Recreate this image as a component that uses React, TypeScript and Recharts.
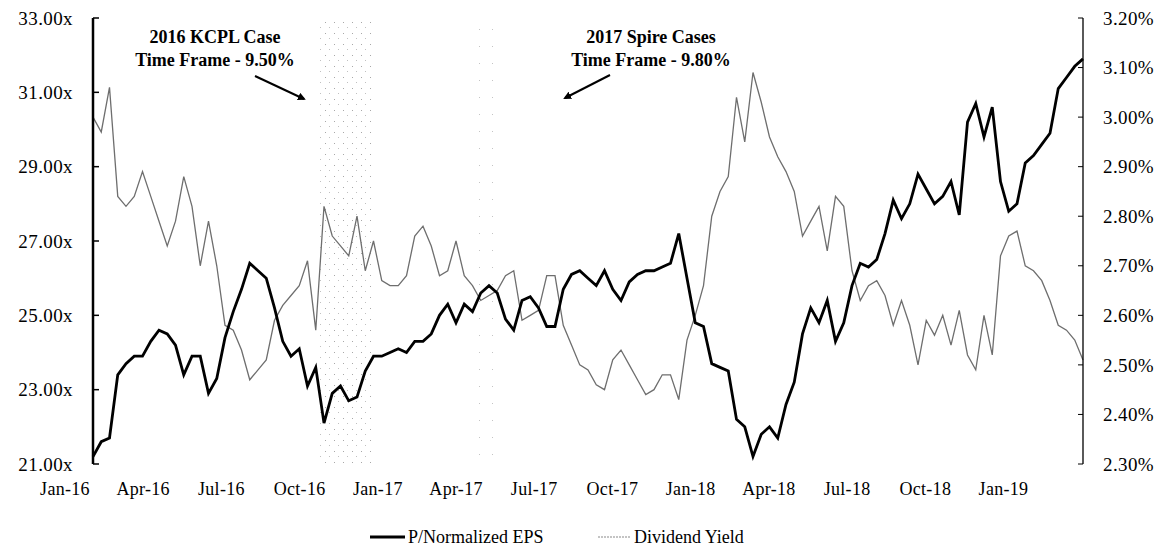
import React from 'react';
import { LineChart, Line, XAxis, YAxis, ReferenceArea } from 'recharts';

// P/Normalized EPS (left axis), roughly every ~10 days from Jan-16 to early 2019
const PE_MULTIPLE = [
  21.2, 21.6, 21.7, 23.4, 23.7, 23.9, 23.9, 24.3, 24.6, 24.5,
  24.2, 23.4, 23.9, 23.9, 22.9, 23.3, 24.4, 25.1, 25.7, 26.4,
  26.2, 26.0, 25.2, 24.3, 23.9, 24.1, 23.1, 23.6, 22.1, 22.9,
  23.1, 22.7, 22.8, 23.5, 23.9, 23.9, 24.0, 24.1, 24.0, 24.3,
  24.3, 24.5, 25.0, 25.3, 24.8, 25.3, 25.1, 25.6, 25.8, 25.6,
  24.9, 24.6, 25.4, 25.5, 25.2, 24.7, 24.7, 25.7, 26.1, 26.2,
  26.0, 25.8, 26.2, 25.7, 25.4, 25.9, 26.1, 26.2, 26.2, 26.3,
  26.4, 27.2, 26.0, 24.8, 24.7, 23.7, 23.6, 23.5, 22.2, 22.0,
  21.2, 21.8, 22.0, 21.7, 22.6, 23.2, 24.5, 25.2, 24.8, 25.4,
  24.3, 24.8, 25.8, 26.4, 26.3, 26.5, 27.2, 28.1, 27.6, 28.0,
  28.8, 28.4, 28.0, 28.2, 28.6, 27.7, 30.2, 30.7, 29.8, 30.6,
  28.6, 27.8, 28.0, 29.1, 29.3, 29.6, 29.9, 31.1, 31.4, 31.7,
  31.9,
];

// Dividend Yield in % (right axis), same dates
const DIV_YIELD = [
  3.00, 2.97, 3.06, 2.84, 2.82, 2.84, 2.89, 2.84, 2.79, 2.74,
  2.79, 2.88, 2.82, 2.70, 2.79, 2.70, 2.58, 2.57, 2.53, 2.47,
  2.49, 2.51, 2.59, 2.62, 2.64, 2.66, 2.71, 2.57, 2.82, 2.76,
  2.74, 2.72, 2.80, 2.69, 2.75, 2.67, 2.66, 2.66, 2.68, 2.76,
  2.78, 2.74, 2.68, 2.69, 2.75, 2.68, 2.66, 2.63, 2.64, 2.65,
  2.68, 2.69, 2.59, 2.60, 2.61, 2.68, 2.68, 2.58, 2.54, 2.50,
  2.49, 2.46, 2.45, 2.51, 2.53, 2.50, 2.47, 2.44, 2.45, 2.48,
  2.48, 2.43, 2.55, 2.60, 2.66, 2.80, 2.85, 2.88, 3.04, 2.95,
  3.09, 3.03, 2.96, 2.92, 2.89, 2.85, 2.76, 2.79, 2.82, 2.73,
  2.84, 2.82, 2.69, 2.63, 2.66, 2.67, 2.64, 2.58, 2.63, 2.58,
  2.50, 2.59, 2.56, 2.60, 2.54, 2.61, 2.52, 2.49, 2.60, 2.52,
  2.72, 2.76, 2.77, 2.70, 2.69, 2.67, 2.63, 2.58, 2.57, 2.55,
  2.51,
];

const X_LABELS = [
  'Jan-16', 'Apr-16', 'Jul-16', 'Oct-16', 'Jan-17', 'Apr-17', 'Jul-17',
  'Oct-17', 'Jan-18', 'Apr-18', 'Jul-18', 'Oct-18', 'Jan-19',
];
const LEFT_TICKS = [21, 23, 25, 27, 29, 31, 33];
const RIGHT_TICKS = [2.3, 2.4, 2.5, 2.6, 2.7, 2.8, 2.9, 3.0, 3.1, 3.2];

// case time frames, in data-point units
const KCPL_CASE = [27.5, 33.9];
const SPIRE_CASE = [46.3, 49.8];

const data = PE_MULTIPLE.map((pe, i) => ({ i, pe, dy: DIV_YIELD[i] }));

const QTR = 9.48; // data points per quarter
const FONT = '"Liberation Serif", "Times New Roman", serif';

const LeftTick = ({ x, y, payload }: any) => (
  <g>
    <line x1={x + 20} x2={x + 26} y1={y} y2={y} stroke="#000" strokeWidth={1.5} />
    <text x={x} y={y} dy="0.35em" textAnchor="end" fontFamily={FONT} fontSize={19} letterSpacing={0.4} fill="#000">
      {payload.value.toFixed(2)}x
    </text>
  </g>
);

const RightTick = ({ x, y, payload }: any) => (
  <g>
    <line x1={x - 20} x2={x - 25} y1={y} y2={y} stroke="#000" strokeWidth={1} />
    <text x={x} y={y} dy="0.35em" textAnchor="start" fontFamily={FONT} fontSize={19} letterSpacing={0.4} fill="#000">
      {payload.value.toFixed(2)}%
    </text>
  </g>
);

const BottomTick = ({ x, y, index }: any) => (
  <text x={x - 28} y={y + 29} textAnchor="middle" fontFamily={FONT} fontSize={18} letterSpacing={0.3} fill="#000">
    {X_LABELS[index]}
  </text>
);

const Overlay = () => (
  <svg width={1160} height={543} style={{ position: 'absolute', left: 0, top: 0, pointerEvents: 'none' }}>
    <defs>
      <marker id="head" markerWidth="8" markerHeight="8" refX="6" refY="4" orient="auto" markerUnits="userSpaceOnUse">
        <path d="M0,0 L8,4 L0,8 z" fill="#000" />
      </marker>
    </defs>
    <g fontFamily={FONT} fontSize={18} fontWeight="bold" textAnchor="middle" fill="#000">
      <text x={207} y={35}>2016 KCPL Case</text>
      <text x={207} y={58}>Time Frame - 9.50%</text>
      <text x={643} y={35}>2017 Spire Cases</text>
      <text x={643} y={58}>Time Frame - 9.80%</text>
    </g>
    <line x1={247} y1={68} x2={296} y2={91} stroke="#000" strokeWidth={2} markerEnd="url(#head)" />
    <line x1={602} y1={67} x2={557} y2={90} stroke="#000" strokeWidth={2} markerEnd="url(#head)" />
    <g fontFamily={FONT} fontSize={18} fill="#000">
      <line x1={362} x2={397} y1={529} y2={529} stroke="#000" strokeWidth={3} />
      <text x={400} y={535}>P/Normalized EPS</text>
      <line x1={590} x2={623} y1={529} y2={529} stroke="#8a8a8a" strokeWidth={1.2} strokeDasharray="2 1" />
      <text x={626} y={535}>Dividend Yield</text>
    </g>
  </svg>
);

export default function App() {
  return (
    <div style={{ position: 'relative', width: 1160, height: 543, background: '#fff' }}>
      <LineChart width={1160} height={543} data={data} margin={{ top: 10, right: 5, bottom: 57, left: 10 }}>
        <defs>
          <pattern id="stipple" width="9" height="11" patternUnits="userSpaceOnUse">
            <rect x="2" y="3" width="1" height="1" fill="#a8a8a8" />
            <rect x="6" y="8" width="1" height="1" fill="#c0c0c0" />
          </pattern>
          <pattern id="stippleSparse" width="13" height="17" patternUnits="userSpaceOnUse">
            <rect x="3" y="4" width="1" height="1" fill="#c4c4c4" />
          </pattern>
        </defs>
        <XAxis
          dataKey="i"
          type="number"
          domain={[0, 120]}
          ticks={X_LABELS.map((_, q) => q * QTR)}
          tick={<BottomTick />}
          tickLine={false}
          axisLine={false}
          tickSize={0}
          height={30}
          interval={0}
        />
        <YAxis
          yAxisId="left"
          domain={[21, 33]}
          ticks={LEFT_TICKS}
          tick={<LeftTick />}
          tickLine={false}
          tickSize={0}
          tickMargin={20}
          width={75}
          axisLine={{ stroke: '#000', strokeWidth: 2.5 }}
          interval={0}
        />
        <YAxis
          yAxisId="right"
          orientation="right"
          domain={[2.3, 3.2]}
          ticks={RIGHT_TICKS}
          tick={<RightTick />}
          tickLine={false}
          tickSize={0}
          tickMargin={20}
          width={80}
          axisLine={{ stroke: '#000', strokeWidth: 1.3 }}
          interval={0}
        />
        <ReferenceArea yAxisId="left" x1={KCPL_CASE[0]} x2={KCPL_CASE[1]} y1={21} y2={33} fill="url(#stipple)" fillOpacity={1} stroke="none" />
        <ReferenceArea yAxisId="left" x1={SPIRE_CASE[0]} x2={SPIRE_CASE[1]} y1={21} y2={33} fill="url(#stippleSparse)" fillOpacity={1} stroke="none" />
        <Line yAxisId="right" dataKey="dy" stroke="#6e6e6e" strokeWidth={1.3} dot={false} isAnimationActive={false} />
        <Line yAxisId="left" dataKey="pe" stroke="#000" strokeWidth={2.8} dot={false} isAnimationActive={false} />
      </LineChart>
      <Overlay />
    </div>
  );
}
